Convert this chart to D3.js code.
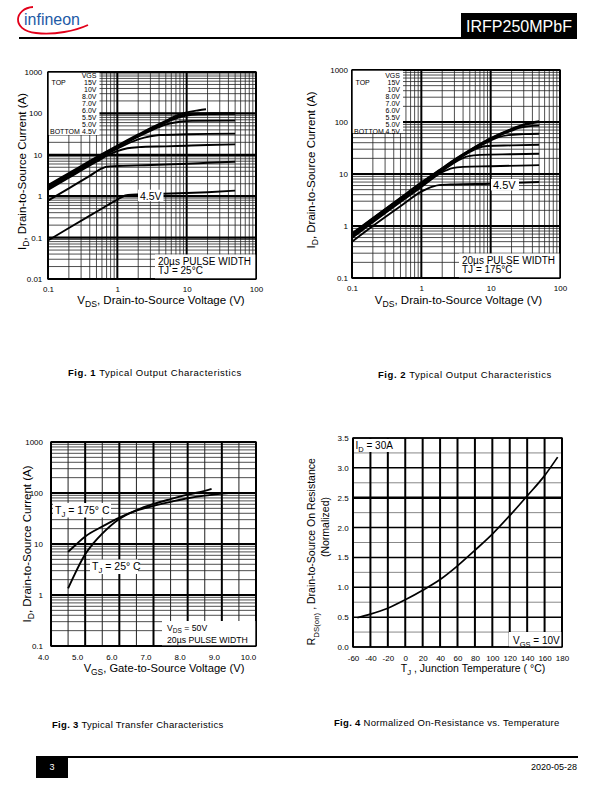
<!DOCTYPE html>
<html><head><meta charset="utf-8">
<script src="https://cdn.jsdelivr.net/npm/d3@7"></script>
<style>body{margin:0;background:#fff} svg{display:block}</style>
</head><body><svg id="page" width="612" height="792"></svg>
<script>
const FONT = '"Liberation Sans", Arial, Helvetica, sans-serif';

// ---------------- Fig. 1 : Typical Output Characteristics, TJ = 25 °C ----------------
const fig1XTicks = [0.1, 1, 10, 100];
const fig1YTicks = [0.01, 0.1, 1, 10, 100, 1000];
const fig1Legend = ["15V", "10V", "8.0V", "7.0V", "6.0V", "5.5V", "5.0V", "4.5V"];
const fig1_15V = [[0.1,1.85],[0.2,3.6],[0.5,8.8],[1,16.7],[2,31],[3,44],[5,66],[8,96],[10,106],[15,119],[19,126]];
const fig1_10V = [[0.1,1.76],[0.2,3.45],[0.5,8.4],[1,16],[2,29.5],[3,41.5],[5,63],[8,88],[10,96],[15,100],[25,101],[50,101]];
const fig1_8V  = [[0.1,1.68],[0.2,3.3],[0.5,8.0],[1,15.4],[2,28.5],[3,40],[5,60],[8,82],[10,89],[15,95],[25,97],[50,98]];
const fig1_7V  = [[0.1,1.6],[0.2,3.15],[0.5,7.7],[1,14.8],[2,27.5],[3,38],[5,54],[8,63],[12,66],[50,67]];
const fig1_6V  = [[0.1,1.52],[0.2,3.0],[0.5,7.3],[1,14],[2,23.5],[3,28],[4,30],[10,31.3],[20,32],[50,32.5]];
const fig1_55V = [[0.1,1.42],[0.2,2.8],[0.5,6.8],[0.8,10.5],[1,12.3],[1.4,14.4],[2,15.3],[5,16],[10,16.6],[20,17.2],[50,17.9]];
const fig1_5V  = [[0.1,0.78],[0.2,1.55],[0.4,3.1],[0.6,4.7],[0.7,5.15],[1,5.35],[2,5.55],[5,5.85],[10,6.1],[20,6.4],[50,6.8]];
const fig1_45V = [[0.1,0.085],[0.2,0.17],[0.5,0.42],[1,0.83],[1.3,1.04],[1.6,1.09],[3,1.12],[10,1.19],[20,1.25],[50,1.36]];
const fig1Curves = [fig1_15V, fig1_10V, fig1_8V, fig1_7V, fig1_6V, fig1_55V, fig1_5V, fig1_45V];

// ---------------- Fig. 2 : Typical Output Characteristics, TJ = 175 °C ----------------
const fig2XTicks = [0.1, 1, 10, 100];
const fig2YTicks = [0.1, 1, 10, 100, 1000];
const fig2Legend = ["15V", "10V", "8.0V", "7.0V", "6.0V", "5.5V", "5.0V", "4.5V"];
const fig2_15V = [[0.1,0.72],[0.2,1.42],[0.5,3.5],[1,6.9],[2,13],[3,19],[5,29],[10,49],[20,74],[30,90],[50,104]];
const fig2_10V = [[0.1,0.7],[0.2,1.39],[0.5,3.4],[1,6.7],[2,12.7],[3,18.5],[5,28.5],[10,48],[20,72],[30,87],[50,100]];
const fig2_8V  = [[0.1,0.68],[0.2,1.35],[0.5,3.3],[1,6.5],[2,12.4],[3,18],[5,28],[10,46],[20,68],[25,76],[35,83],[50,85]];
const fig2_7V  = [[0.1,0.66],[0.2,1.31],[0.5,3.2],[1,6.3],[2,12.1],[3,17.6],[5,27.5],[10,44],[13,51],[18,56],[30,58.5],[50,59.5]];
const fig2_6V  = [[0.1,0.64],[0.2,1.27],[0.5,3.1],[1,6.1],[2,11.8],[3,17.2],[5,26.5],[6.7,32],[9,34.5],[20,35.5],[50,36.5]];
const fig2_55V = [[0.1,0.62],[0.2,1.23],[0.5,3.0],[1,5.9],[2,11.4],[3,16.6],[4.8,22],[7,23.3],[20,24],[50,24.5]];
const fig2_5V  = [[0.1,0.59],[0.2,1.18],[0.5,2.9],[1,5.6],[2,10.8],[2.8,13],[4,13.7],[10,14.1],[50,14.8]];
const fig2_45V = [[0.1,0.5],[0.2,1.0],[0.5,2.4],[1,4.6],[1.5,5.8],[1.8,6.1],[3,6.3],[10,6.5],[50,7.0]];
const fig2Curves = [fig2_15V, fig2_10V, fig2_8V, fig2_7V, fig2_6V, fig2_55V, fig2_5V, fig2_45V];

// ---------------- Fig. 3 : Typical Transfer Characteristics ----------------
const fig3XTicks = [4, 5, 6, 7, 8, 9, 10];
const fig3YTicks = [0.1, 1, 10, 100, 1000];
const fig3Vgs25  = [4.5, 4.7, 4.9, 5.0, 5.25, 5.5, 6.0, 6.5, 7.0, 7.5, 8.0, 8.5, 8.7];
const fig3Id25   = [1.35, 2.6, 4.8, 6.3, 10.5, 16, 31, 46, 61, 76, 93, 110, 120];
const fig3Vgs175 = [4.5, 4.75, 5.0, 5.5, 6.0, 6.5, 7.0, 7.5, 8.0, 8.5, 9.0, 9.2];
const fig3Id175  = [7, 10, 14, 22, 33, 45, 56, 67, 79, 89, 97, 100];

// ---------------- Fig. 4 : Normalized On-Resistance vs. Temperature ----------------
const fig4XTicks = [-60, -40, -20, 0, 20, 40, 60, 80, 100, 120, 140, 160, 180];
const fig4YTicks = [0.0, 0.5, 1.0, 1.5, 2.0, 2.5, 3.0, 3.5];
const fig4Temp = [-55, -40, -20, 0, 20, 40, 60, 80, 100, 120, 140, 160, 175];
const fig4Rds  = [0.49, 0.55, 0.65, 0.79, 0.95, 1.13, 1.36, 1.62, 1.89, 2.2, 2.53, 2.87, 3.18];

const svg = d3.select("#page");

function rich(g, x, y, parts, size, opts = {}) {
  const t = g.append("text").attr("x", x).attr("y", y)
    .attr("font-size", size).attr("font-family", FONT).attr("fill", opts.fill || "#000");
  if (opts.anchor) t.attr("text-anchor", opts.anchor);
  if (opts.rotate) t.attr("transform", `rotate(-90,${x},${y})`);
  if (opts.ls) t.attr("letter-spacing", opts.ls);
  const shift = opts.sub || 0.3;
  let shifted = false;
  parts.forEach(p => {
    const sub = Array.isArray(p);
    const s = t.append("tspan").text(sub ? p[0] : p);
    if (sub) { s.attr("font-size", size * 0.75); if (!shifted) { s.attr("dy", size * shift); shifted = true; } }
    else if (shifted) { s.attr("dy", -size * shift); shifted = false; }
  });
  return t;
}
function caption(g, x, y, bold, rest, ls) {
  const c = g.append("text").attr("x", x).attr("y", y).attr("font-family", FONT).attr("font-size", 9.5).attr("letter-spacing", ls);
  c.append("tspan").attr("font-weight", "bold").text(bold);
  c.append("tspan").text(" " + rest);
}
function whiteBox(g, x0, y0, x1, y1) {
  g.append("rect").attr("x", x0).attr("y", y0).attr("width", x1 - x0).attr("height", y1 - y0).attr("fill", "#fff");
}
function logMinor(lo, hi) { const v = []; for (let d = lo; d < hi; d++) for (let k = 2; k <= 9; k++) v.push(k * Math.pow(10, d)); return v; }
function vLines(g, x, vals, y0, y1, w, c) {
  g.selectAll(null).data(vals).join("line").attr("x1", d => x(d)).attr("x2", d => x(d))
    .attr("y1", y0).attr("y2", y1).attr("stroke", c).attr("stroke-width", w);
}
function hLines(g, y, vals, x0, x1, w, c) {
  g.selectAll(null).data(vals).join("line").attr("y1", d => y(d)).attr("y2", d => y(d))
    .attr("x1", x0).attr("x2", x1).attr("stroke", c).attr("stroke-width", w);
}
function axes(g, x, y, xt, yt, xfmt, yfmt, xpad, ypad, xdx) {
  const [X0] = x.range(); const [Y0] = y.range();
  const ax = g.append("g").attr("transform", `translate(0,${Y0})`)
    .call(d3.axisBottom(x).tickValues(xt).tickFormat(xfmt).tickSize(0).tickPadding(xpad));
  const ay = g.append("g").attr("transform", `translate(${X0},0)`)
    .call(d3.axisLeft(y).tickValues(yt).tickFormat(yfmt).tickSize(0).tickPadding(ypad));
  [ax, ay].forEach(a => { a.select(".domain").remove(); a.attr("font-family", FONT).attr("font-size", 8); a.selectAll("text").attr("fill", "#000"); });
  if (xdx) ax.selectAll("text").attr("dx", xdx);
}
function frame(g, x, y) {
  const [x0, x1] = x.range(); const [y0, y1] = y.range();
  g.append("rect").attr("x", x0).attr("y", y1).attr("width", x1 - x0).attr("height", y0 - y1)
    .attr("fill", "none").attr("stroke", "#000").attr("stroke-width", 1.4);
}
const numFmt = d => (d >= 1 ? d3.format("d")(d) : String(d));

// ---------------- Header / footer ----------------
(function header() {
  const g = svg.append("g");
  g.append("path").attr("d", "M33,7 C15,8 10,30 36,33 C55,35 75,31 88,25").attr("fill", "none")
    .attr("stroke", "#e2001a").attr("stroke-width", 1.8);
  g.append("text").attr("x", 24).attr("y", 25).attr("font-family", FONT).attr("font-size", 17)
    .attr("fill", "#1d5aa6").attr("textLength", 56).attr("lengthAdjust", "spacingAndGlyphs").text("infineon");
  g.append("line").attr("x1", 19).attr("x2", 461).attr("y1", 38).attr("y2", 38).attr("stroke", "#000").attr("stroke-width", 2);
  g.append("rect").attr("x", 461).attr("y", 13).attr("width", 116).attr("height", 26).attr("fill", "#000");
  g.append("text").attr("x", 519).attr("y", 32).attr("text-anchor", "middle").attr("font-family", FONT)
    .attr("font-size", 17).attr("fill", "#fff").attr("textLength", 106).attr("lengthAdjust", "spacingAndGlyphs").text("IRFP250MPbF");
  g.append("line").attr("x1", 36).attr("x2", 578).attr("y1", 757).attr("y2", 757).attr("stroke", "#000").attr("stroke-width", 2);
  g.append("rect").attr("x", 36).attr("y", 757).attr("width", 32).attr("height", 21).attr("fill", "#000");
  g.append("text").attr("x", 52).attr("y", 770).attr("text-anchor", "middle").attr("font-family", FONT)
    .attr("font-size", 9).attr("fill", "#fff").text("3");
  g.append("text").attr("x", 577).attr("y", 770).attr("text-anchor", "end").attr("font-family", FONT)
    .attr("font-size", 9).attr("fill", "#000").text("2020-05-28");
})();

// ---------------- output characteristic panel (Fig 1 / Fig 2) ----------------
function outputPanel(o) {
  const g = svg.append("g");
  const x = d3.scaleLog().domain([0.1, 100]).range(o.xr);
  const y = d3.scaleLog().domain(o.ydom).range(o.yr);
  const [X0, X1] = o.xr, [Y0, Y1] = o.yr;
  const e0 = Math.round(Math.log10(o.ydom[0])), e1 = Math.round(Math.log10(o.ydom[1]));
  vLines(g, x, logMinor(-1, 2), Y1, Y0, 0.8, "#222");
  hLines(g, y, logMinor(e0, e1), X0, X1, 0.8, "#222");
  vLines(g, x, o.xt, Y1, Y0, 2, "#000");
  hLines(g, y, o.yt, X0, X1, 2.2, "#000");
  frame(g, x, y);
  const line = d3.line().x(d => x(d[0])).y(d => y(d[1])).curve(d3.curveMonotoneX);
  g.selectAll(null).data(o.curves).join("path").attr("d", line)
    .attr("fill", "none").attr("stroke", "#000").attr("stroke-width", 1.9);
  // legend
  whiteBox(g, X0 + 0.7, Y1 + 0.7, o.legR + 3, Y1 + 63);
  rich(g, o.legR, o.legY, ["VGS"], 7, { anchor: "end" });
  o.legend.forEach((s, i) => rich(g, o.legR, o.legY + 7 * (i + 1), [s], 7, { anchor: "end" }));
  rich(g, X0 + 3.5, o.legY + 7, ["TOP"], 7);
  rich(g, X0 + 2, o.legY + 56, ["BOTTOM"], 7);
  // 4.5V label
  whiteBox(g, o.lab[0] - 2, o.lab[1] - 6, o.lab[0] + o.lab[2], o.lab[1] + 5.5);
  rich(g, o.lab[0], o.lab[1] + 3.8, ["4.5V"], o.lab[3]);
  // pulse box
  whiteBox(g, o.pbx, Y0 - 24.5, X1 - 0.7, Y0 - 0.7);
  rich(g, o.pbx + 3, Y0 - 14.3, ["20µs PULSE WIDTH"], 10);
  rich(g, o.pbx + 3, Y0 - 4.8, [o.tj], 10);
  axes(g, x, y, o.xt, o.yt, numFmt, numFmt, o.xpad, o.ypad);
  rich(g, o.ylabX, (Y0 + Y1) / 2 - 4, ["I", ["D"], ",  Drain-to-Source Current (A)"], 11.5, { anchor: "middle", rotate: true });
  rich(g, o.xlabC, o.xlabY, ["V", ["DS"], ", Drain-to-Source Voltage (V)"], 11.5, { anchor: "middle" });
  caption(g, o.cap[0], o.cap[1], o.cap[2], o.cap[3], 0.55);
}

outputPanel({
  xr: [48, 256], ydom: [0.01, 1000], yr: [279, 72], xt: fig1XTicks, yt: fig1YTicks, curves: fig1Curves,
  legend: fig1Legend, legR: 96.5, legY: 77.5, lab: [140, 195.7, 23.5, 10.5], pbx: 155, tj: "TJ = 25°C",
  xpad: 7.5, ypad: 5.7, ylabX: 25.7, xlabC: 161, xlabY: 303.5,
  cap: [68, 376, "Fig. 1", "Typical Output Characteristics"]
});
outputPanel({
  xr: [352, 560], ydom: [0.1, 1000], yr: [278, 70], xt: fig2XTicks, yt: fig2YTicks, curves: fig2Curves,
  legend: fig2Legend, legR: 400, legY: 77.5, lab: [493, 185, 26, 11], pbx: 459, tj: "TJ = 175°C",
  xpad: 7.3, ypad: 4, ylabX: 315, xlabC: 458.5, xlabY: 303.5,
  cap: [378, 378, "Fig. 2", "Typical Output Characteristics"]
});

// ---------------- Fig 3 ----------------
(function fig3() {
  const g = svg.append("g");
  const x = d3.scaleLinear().domain([4, 10]).range([51, 256]);
  const y = d3.scaleLog().domain([0.1, 1000]).range([646, 442]);
  const half = d3.range(4.5, 10, 1);
  vLines(g, x, half, 442, 646, 1, "#222");
  hLines(g, y, logMinor(-1, 3), 51, 256, 0.8, "#222");
  vLines(g, x, fig3XTicks, 442, 646, 2, "#000");
  hLines(g, y, fig3YTicks, 51, 256, 2, "#000");
  frame(g, x, y);
  const line = d3.line().x(d => x(d[0])).y(d => y(d[1])).curve(d3.curveMonotoneX);
  const c25 = fig3Vgs25.map((v, i) => [v, fig3Id25[i]]);
  const c175 = fig3Vgs175.map((v, i) => [v, fig3Id175[i]]);
  g.selectAll(null).data([c25, c175]).join("path").attr("d", line)
    .attr("fill", "none").attr("stroke", "#000").attr("stroke-width", 1.9);
  whiteBox(g, 53, 503, 111, 517.5);
  rich(g, 55, 514, ["T", ["J"], " = 175° C"], 10.5);
  whiteBox(g, 90, 559.5, 138, 574);
  rich(g, 92, 570.3, ["T", ["J"], " = 25° C"], 10.5);
  whiteBox(g, 162, 621, 255.3, 645.3);
  rich(g, 167, 630.6, ["V", ["DS"], " = 50V"], 8.7, { sub: 0.22 });
  rich(g, 167, 642.6, ["20µs PULSE WIDTH"], 8.7);
  axes(g, x, y, fig3XTicks, fig3YTicks, d3.format(".1f"), numFmt, 8.6, 8, -8);
  rich(g, 30.7, 544, ["I", ["D"], ",  Drain-to-Source Current (A)"], 11.5, { anchor: "middle", rotate: true });
  rich(g, 164, 671.5, ["V", ["GS"], ", Gate-to-Source Voltage (V)"], 11.2, { anchor: "middle" });
  caption(g, 52, 728, "Fig. 3", "Typical Transfer Characteristics", 0.3);
})();

// ---------------- Fig 4 ----------------
(function fig4() {
  const g = svg.append("g");
  const x = d3.scaleLinear().domain([-60, 180]).range([353, 562]);
  const y = d3.scaleLinear().domain([0, 3.5]).range([647, 438]);
  const quarter = d3.range(0.25, 3.5, 0.5);
  hLines(g, y, quarter, 353, 562, 1, "#888");
  hLines(g, y, fig4YTicks.filter(v => v !== 2.5), 353, 562, 1.5, "#000");
  hLines(g, y, [2.5], 353, 562, 2.6, "#000");
  vLines(g, x, fig4XTicks, 438, 647, 2, "#000");
  frame(g, x, y);
  const line = d3.line().x(d => x(d[0])).y(d => y(d[1])).curve(d3.curveMonotoneX);
  g.append("path").datum(fig4Temp.map((t, i) => [t, fig4Rds[i]])).attr("d", line)
    .attr("fill", "none").attr("stroke", "#000").attr("stroke-width", 1.7);
  whiteBox(g, 354, 439, 397, 452);
  rich(g, 355.5, 448.5, ["I", ["D"], " = 30A"], 10);
  whiteBox(g, 509, 632, 561.3, 646.3);
  rich(g, 513, 643.5, ["V", ["GS"], " = 10V"], 10);
  axes(g, x, y, fig4XTicks, fig4YTicks, d => String(d), d3.format(".1f"), 7.9, 4.3);
  rich(g, 315.5, 551.7, ["R", ["DS(on)"], " , Drain-to-Source On Resistance"], 10.5, { anchor: "middle", rotate: true });
  rich(g, 328.7, 527, ["(Normalized)"], 10.5, { anchor: "middle", rotate: true });
  rich(g, 473, 671.7, ["T", ["J"], " , Junction Temperature ( °C)"], 10.5, { anchor: "middle" });
  caption(g, 334, 726, "Fig. 4", "Normalized On-Resistance vs. Temperature", 0.3);
})();
</script>
</body></html>
